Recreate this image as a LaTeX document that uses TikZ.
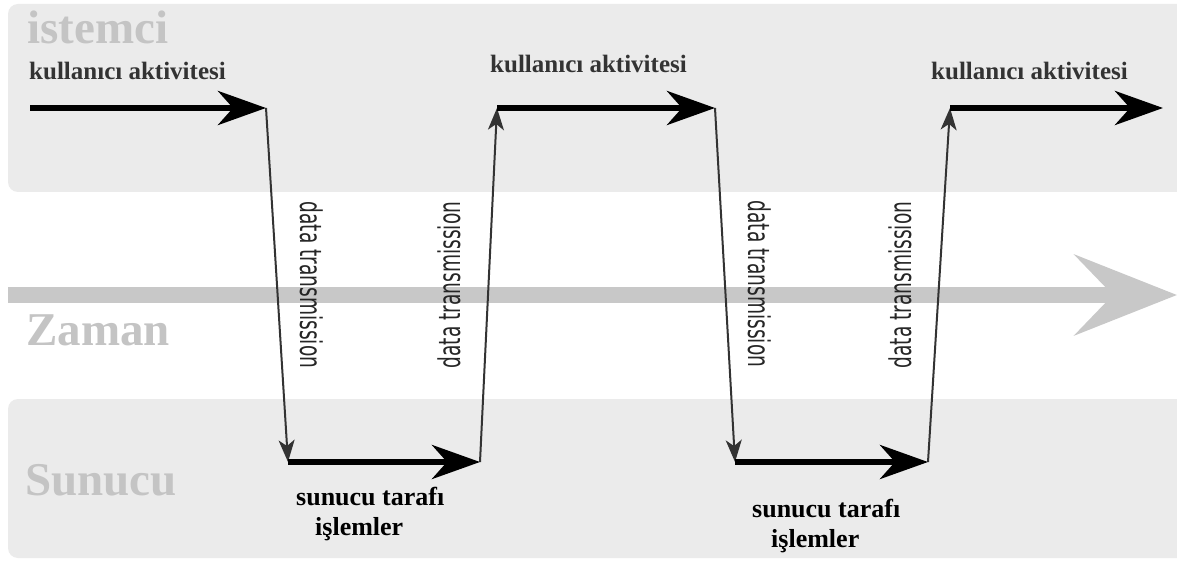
\documentclass[tikz,border=0pt]{standalone}
\usepackage{fontspec}
\setmainfont{Liberation Serif}
\newfontfamily\sansdt{DejaVu Sans}
\usetikzlibrary{arrows.meta}

\definecolor{band}{HTML}{EBEBEB}
\definecolor{faint}{HTML}{C4C4C4}
\definecolor{timeline}{HTML}{C8C8C8}
\definecolor{thinline}{HTML}{333333}

\tikzset{
  lane/.style={fill=band, rounded corners=10pt},
  lanename/.style={font=\fontsize{47}{52}\selectfont\bfseries, text=faint, anchor=base west, inner sep=0pt},
  timearrow/.style={line width=16pt, draw=timeline, -{Stealth[length=102pt,width=80pt,inset=38pt]}},
  activity/.style={line width=6pt, draw=black, -{Stealth[length=48pt,width=34pt,inset=15pt]}},
  transfer/.style={line width=2pt, draw=thinline, -{Stealth[length=22pt,width=16pt,inset=6pt]}},
  actlabel/.style={font=\fontsize{25}{30}\selectfont\bfseries, text=black!80, anchor=base west, inner sep=0pt},
  proclabel/.style={font=\fontsize{26}{30}\selectfont\bfseries, anchor=base west, inner sep=0pt},
  dtlabel/.style={font=\fontsize{30}{34}\sansdt, text=black!85, inner sep=0pt},
}
\newcommand{\dttext}{\scalebox{0.62}[1]{data transmission}}

\begin{document}
\begin{tikzpicture}[x=1pt,y=-1pt]
  \useasboundingbox (0,0) rectangle (1177,561);
  \clip (0,0) rectangle (1177,561);
  \fill[white] (0,0) rectangle (1177,561);

  % client and server lanes
  \path[lane] (8,4) rectangle (1200,192);
  \path[lane] (8,399) rectangle (1200,558);

  % time axis
  \coordinate (t0) at (8,295);
  \coordinate (t1) at (1177,295);
  \draw[timearrow] (t0) -- (t1);

  % lane names
  \node[lanename] (client) at (27,44) {istemci};
  \node[lanename] (time) at (26,345) {Zaman};
  \node[lanename] (server) at (25,495) {Sunucu};

  % turning points of the request/response flow
  \coordinate (s0) at (30,108);
  \coordinate (c1) at (266,108);
  \coordinate (p1) at (288,462);
  \coordinate (p2) at (480,462);
  \coordinate (c2) at (497,108);
  \coordinate (c3) at (715,108);
  \coordinate (p3) at (735,462);
  \coordinate (p4) at (928,462);
  \coordinate (c4) at (950,108);
  \coordinate (e) at (1163,108);

  % flow
  \draw[transfer] (c1) -- (p1);
  \draw[transfer] (p2) -- (c2);
  \draw[transfer] (c3) -- (p3);
  \draw[transfer] (p4) -- (c4);
  \draw[activity] (s0) -- (c1);
  \draw[activity] (p1) -- (p2);
  \draw[activity] (c2) -- (c3);
  \draw[activity] (p3) -- (p4);
  \draw[activity] (c4) -- (e);

  % client activity labels
  \node[actlabel] (ua1) at (29,80) {kullanıcı aktivitesi};
  \node[actlabel] (ua2) at (490,73) {kullanıcı aktivitesi};
  \node[actlabel] (ua3) at (931,80) {kullanıcı aktivitesi};

  % transmission labels
  \node[dtlabel, rotate=-90] (dt1) at (312,285) {\dttext};
  \node[dtlabel, rotate=90] (dt2) at (449,285) {\dttext};
  \node[dtlabel, rotate=-90] (dt3) at (760,284) {\dttext};
  \node[dtlabel, rotate=90] (dt4) at (900,285) {\dttext};

  % server side labels
  \node[proclabel] (sp1a) at (296,505) {sunucu tarafı};
  \node[proclabel] (sp1b) at (315,535) {işlemler};
  \node[proclabel] (sp2a) at (752,517) {sunucu tarafı};
  \node[proclabel] (sp2b) at (771,547) {işlemler};
\end{tikzpicture}
\end{document}
